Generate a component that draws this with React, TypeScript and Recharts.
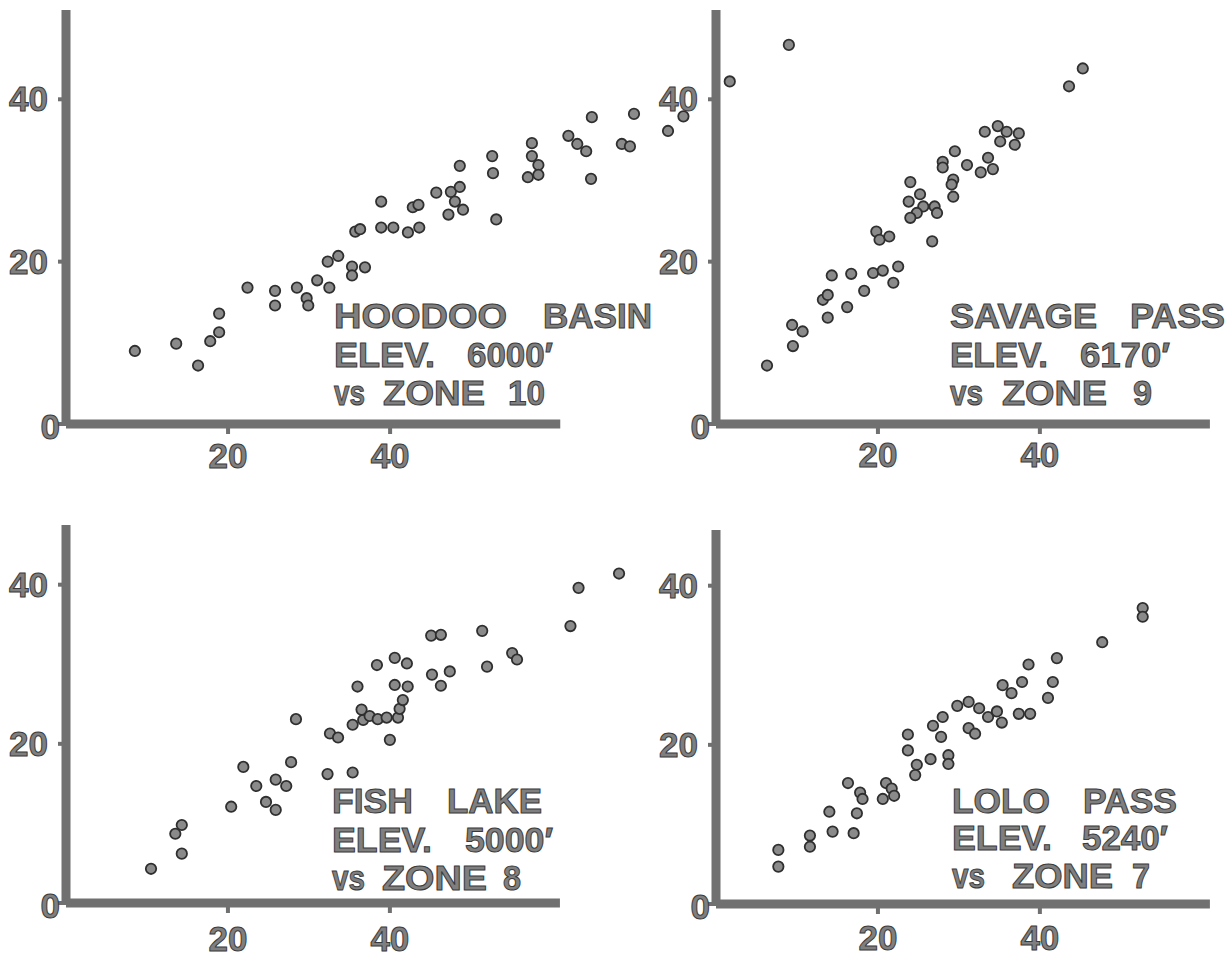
import React from "react";
import { ScatterChart, Scatter, XAxis, YAxis, ReferenceLine } from "recharts";

type Pt = { x: number; y: number };
const pts = (a: number[][]): Pt[] => a.map(([x, y]) => ({ x, y }));

// Hoodoo Basin, elev. 6000' vs zone 10
const hoodooBasin = pts([
  [8.5, 9.0], [13.6, 9.9], [16.3, 7.2], [17.8, 10.2], [18.9, 11.3], [18.9, 13.6],
  [22.4, 16.8], [25.8, 16.4], [25.8, 14.6], [28.5, 16.8], [29.7, 15.5], [29.9, 14.6],
  [31.0, 17.7], [32.5, 16.8], [32.3, 20.0], [33.6, 20.7], [35.3, 19.4], [35.3, 18.3],
  [36.9, 19.3], [35.7, 23.7], [36.3, 24.0], [38.9, 24.2], [40.4, 24.2], [38.9, 27.4],
  [42.2, 23.6], [43.6, 24.2], [42.8, 26.7], [43.5, 27.0], [45.7, 28.5], [47.2, 25.8],
  [47.5, 28.6], [48.6, 29.2], [48.0, 27.4], [49.0, 26.4], [48.6, 31.8], [52.6, 33.0],
  [52.7, 30.9], [53.1, 25.2], [57.5, 34.6], [57.5, 33.0], [58.3, 31.9], [57.0, 30.4],
  [58.3, 30.7], [62.0, 35.5], [63.1, 34.5], [64.2, 33.6], [64.8, 30.2], [64.9, 37.8],
  [68.6, 34.5], [69.6, 34.2], [70.1, 38.2], [74.3, 36.1], [76.2, 37.9],
]);

// Savage Pass, elev. 6170' vs zone 9
const savagePass = pts([
  [1.7, 42.2], [9.0, 46.7], [6.3, 7.2], [9.4, 12.2], [10.7, 11.4], [9.5, 9.6],
  [13.2, 15.3], [13.8, 15.9], [13.8, 13.1], [14.3, 18.3], [16.2, 14.4], [16.7, 18.5],
  [18.3, 16.4], [19.4, 18.6], [20.6, 18.9], [21.9, 17.4], [22.5, 19.4], [19.8, 23.7],
  [20.2, 22.7], [21.4, 23.1], [24.0, 29.8], [23.8, 27.4], [25.2, 28.3], [25.6, 26.8],
  [24.8, 26.0], [24.0, 25.4], [27.0, 26.8], [27.3, 26.0], [26.7, 22.5], [28.0, 32.3],
  [28.0, 31.6], [29.3, 30.1], [29.1, 29.5], [29.3, 28.0], [29.5, 33.6], [31.0, 31.9],
  [33.6, 32.8], [34.2, 31.4], [32.7, 31.0], [33.2, 36.0], [34.8, 36.7], [35.9, 36.0],
  [35.1, 34.8], [37.4, 35.8], [36.9, 34.4], [43.6, 41.6], [45.3, 43.8],
]);

// Fish Lake, elev. 5000' vs zone 8
const fishLake = pts([
  [10.5, 4.3], [14.3, 9.8], [13.5, 8.7], [14.3, 6.2], [20.4, 12.1], [21.9, 17.1],
  [23.5, 14.7], [24.7, 12.7], [25.9, 11.7], [25.9, 15.5], [27.2, 14.7], [27.8, 17.7],
  [28.4, 23.1], [32.3, 16.2], [32.6, 21.3], [33.6, 20.8], [35.4, 16.4], [35.4, 22.4],
  [36.7, 23.0], [36.5, 24.3], [37.5, 23.5], [38.5, 23.1], [39.6, 23.3], [41.0, 23.3],
  [41.2, 24.4], [41.6, 25.5], [40.0, 20.5], [36.0, 27.2], [38.4, 29.9], [40.6, 30.8],
  [42.1, 30.1], [40.6, 27.4], [42.2, 27.2], [45.2, 28.7], [45.1, 33.6], [46.3, 33.7],
  [46.3, 27.3], [47.4, 29.1], [51.4, 34.2], [52.0, 29.7], [55.1, 31.4], [55.7, 30.6],
  [62.3, 34.8], [63.3, 39.6], [68.3, 41.4],
]);

// Lolo Pass, elev. 5240' vs zone 7
const loloPass = pts([
  [7.7, 6.8], [7.7, 4.7], [11.6, 8.6], [11.6, 7.2], [14.0, 11.6], [14.4, 9.1],
  [16.3, 15.2], [17.0, 8.9], [17.4, 11.4], [17.8, 14.0], [18.1, 13.2], [20.6, 13.2],
  [21.0, 15.2], [21.7, 14.5], [22.0, 13.6], [23.7, 21.3], [23.7, 19.3], [24.8, 17.5],
  [24.6, 16.2], [26.5, 18.2], [26.8, 22.4], [27.8, 21.0], [28.0, 23.5], [28.7, 18.7],
  [28.7, 17.6], [29.8, 24.9], [31.2, 25.4], [32.5, 24.6], [31.2, 22.1], [32.0, 21.4],
  [33.6, 23.5], [34.7, 24.2], [35.3, 22.8], [35.4, 27.5], [36.5, 26.5], [37.8, 27.9],
  [37.4, 23.9], [38.8, 23.9], [38.6, 30.1], [41.0, 25.9], [41.6, 27.9], [42.1, 30.9],
  [47.7, 32.9], [52.7, 37.2], [52.7, 36.1],
]);

const xTicks = [20, 40];
const yTicks = [0, 20, 40];
const X_AXIS_END = 61;

// station labels: word, left, right, baseline
const labels: [string, number, number, number][] = [
  ["HOODOO", 334, 507, 328], ["BASIN", 543, 652, 328],
  ["ELEV.", 334, 435, 367], ["6000′", 467, 553, 367],
  ["vs", 334, 365, 405], ["ZONE", 383, 485, 405], ["10", 508, 545, 405],
  ["SAVAGE", 950, 1097, 328], ["PASS", 1130, 1225, 328],
  ["ELEV.", 950, 1048, 367], ["6170′", 1080, 1170, 367],
  ["vs", 950, 983, 405], ["ZONE", 1002, 1107, 405], ["9", 1133, 1152, 405],
  ["FISH", 332, 413, 813], ["LAKE", 447, 542, 813],
  ["ELEV.", 332, 432, 852], ["5000′", 465, 553, 852],
  ["vs", 332, 365, 890], ["ZONE", 382, 487, 890], ["8", 503, 521, 890],
  ["LOLO", 952, 1050, 813], ["PASS", 1083, 1177, 813],
  ["ELEV.", 952, 1052, 850], ["5240′", 1082, 1168, 850],
  ["vs", 952, 985, 888], ["ZONE", 1012, 1113, 888], ["7", 1132, 1150, 888],
];

const GRAY = "#707070";
const font = {
  fontFamily: "'Liberation Sans', Arial, sans-serif",
  fontWeight: 700,
  fontSize: 35,
  fill: "#7f7f7f",
  stroke: "#3a3a3a",
  strokeWidth: 1,
};

const YTick = (props: any) => {
  const { x, y, payload } = props;
  const zero = payload.value === 0;
  return (
    <text x={x + (zero ? 12 : 0)} y={y + (zero ? 15 : 12)} textAnchor="end" style={font}>
      {payload.value}
    </text>
  );
};

const Dot = (props: any) => (
  <circle cx={props.cx} cy={props.cy} r={5.2} fill="#8a8a8a" stroke="#2f2f2f" strokeWidth={1.8} />
);

interface PanelProps {
  data: Pt[];
  left: number;
  top: number;
  width: number;
  height: number;
  xMax: number;
  yMax: number;
  axisH: number;
  labelDy: number;
}

const Panel = ({ data, left, top, width, height, xMax, yMax, axisH, labelDy }: PanelProps) => (
  <div style={{ position: "absolute", left, top }}>
    <ScatterChart width={width} height={height} margin={{ top: 10, right: 0, bottom: 0, left: 0 }}>
      <XAxis
        type="number"
        dataKey="x"
        domain={[0, xMax]}
        ticks={xTicks}
        interval={0}
        axisLine={false}
        tickLine={{ stroke: GRAY, strokeWidth: 4 }}
        tickSize={10}
        tickMargin={0}
        height={axisH}
        tick={(p: any) => (
          <text x={p.x} y={p.y + labelDy} textAnchor="middle" style={font}>
            {p.payload.value}
          </text>
        )}
      />
      <YAxis
        type="number"
        dataKey="y"
        domain={[0, yMax]}
        ticks={yTicks}
        interval={0}
        width={66}
        axisLine={{ stroke: GRAY, strokeWidth: 9 }}
        tickLine={{ stroke: GRAY, strokeWidth: 4 }}
        tickSize={8}
        tickMargin={10}
        tick={<YTick />}
      />
      <ReferenceLine
        segment={[{ x: 0, y: 0 }, { x: X_AXIS_END, y: 0 }]}
        stroke={GRAY}
        strokeWidth={9}
        ifOverflow="visible"
      />
      <Scatter data={data} isAnimationActive={false} shape={Dot} />
    </ScatterChart>
  </div>
);

export default function App() {
  return (
    <div style={{ position: "fixed", left: 0, top: 0, width: 1231, height: 959, overflow: "hidden", background: "#fff" }}>
      <Panel data={hoodooBasin} left={0} top={0} width={698} height={480} xMax={78} yMax={51} axisH={56} labelDy={34} />
      <Panel data={savagePass} left={650} top={0} width={568} height={480} xMax={62} yMax={51} axisH={56} labelDy={33} />
      <Panel data={fishLake} left={0} top={515} width={649} height={442} xMax={72} yMax={47.5} axisH={54} labelDy={38} />
      <Panel data={loloPass} left={650} top={520} width={568} height={438} xMax={62} yMax={47} axisH={54} labelDy={36} />
      <svg width={1231} height={959} style={{ position: "absolute", left: 0, top: 0, pointerEvents: "none" }}>
        {labels.map(([word, x0, x1, y], i) => (
          <text key={i} x={x0} y={y} textLength={x1 - x0} lengthAdjust="spacingAndGlyphs" style={font}>
            {word}
          </text>
        ))}
      </svg>
    </div>
  );
}
